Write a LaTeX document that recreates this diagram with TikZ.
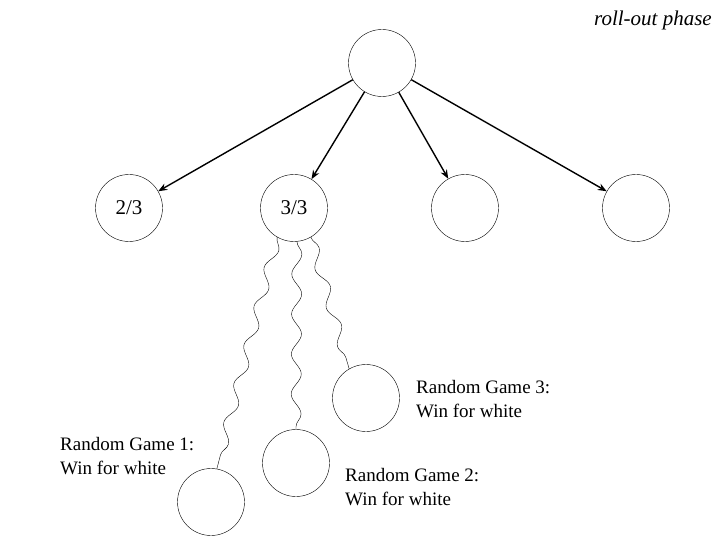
\documentclass[tikz,border=0pt]{standalone}
\usepackage{fontspec}
\setmainfont{Liberation Serif}
\usetikzlibrary{decorations.pathmorphing,arrows.meta}
\begin{document}
\begin{tikzpicture}[x=1pt,y=-1pt,
  st/.style={circle,draw,minimum size=67pt,inner sep=0pt,font=\fontsize{21}{23}\selectfont},
  ar/.style={draw,line width=1.4pt,-{Stealth[length=9pt,width=7pt]}},
  wv/.style={draw,decorate,decoration={snake,amplitude=5pt,segment length=40pt}},
  lb/.style={align=left,anchor=north west,inner sep=0pt,font=\fontsize{19}{24}\selectfont}]
\useasboundingbox (0,0) rectangle (720,540);
\node[st] (r) at (382,63) {};
\node[st] (a) at (129,208) {2/3};
\node[st] (b) at (294,208) {3/3};
\node[st] (c) at (465,208) {};
\node[st] (d) at (636,208) {};
\node[st] (g3) at (366,398) {};
\node[st] (g2) at (296,463) {};
\node[st] (g1) at (211,502) {};
\foreach \t in {a,b,c,d} \draw[ar] (r) -- (\t);
\draw[wv] (b.240) -- (g1.80);
\draw[wv] (b.275) -- (g2.90);
\draw[wv] (b.300) -- (g3.120);
\node[lb] (l3) at (416,380) {Random Game 3:\\Win for white};
\node[lb] (l1) at (60,437) {Random Game 1:\\Win for white};
\node[lb] (l2) at (345,468) {Random Game 2:\\Win for white};
\node[anchor=north east,inner sep=0pt,font=\itshape\fontsize{21}{23}\selectfont] (t) at (712,11) {roll-out phase};
\end{tikzpicture}
\end{document}
